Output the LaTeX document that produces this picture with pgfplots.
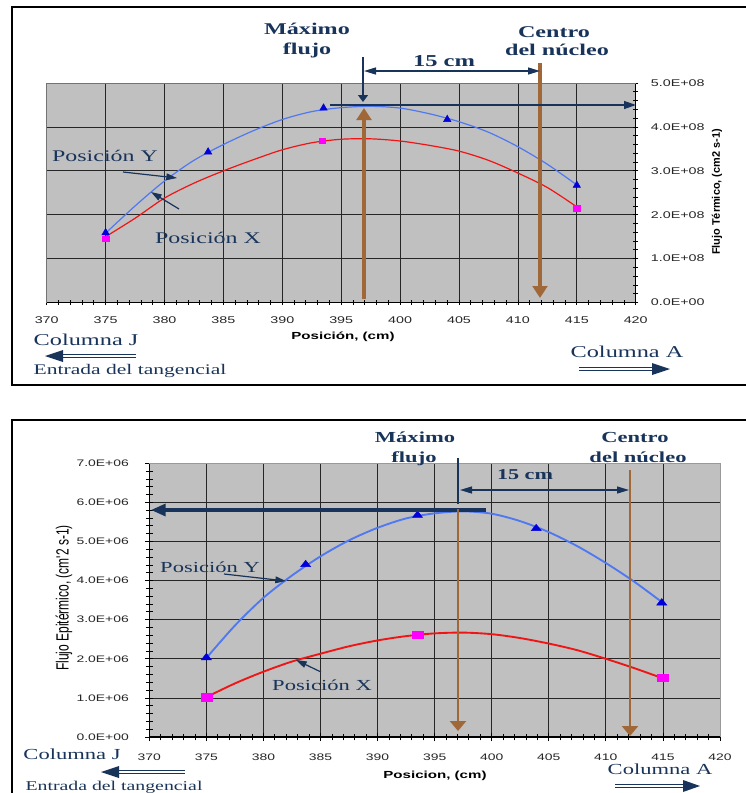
\documentclass[border=0pt]{standalone}
\usepackage{fontspec}
\setmainfont{Liberation Serif}[FakeStretch=1.47]
\setsansfont{Liberation Sans}[FakeStretch=1.47]
\newfontfamily\plainsans{Liberation Sans}
\usepackage{graphicx}
\usepackage{pgfplots}
\pgfplotsset{compat=1.18}
\usetikzlibrary{arrows.meta}

\definecolor{navy}{RGB}{25,52,90}
\definecolor{brownar}{RGB}{160,104,56}
\definecolor{plotgray}{RGB}{192,192,192}
\definecolor{bluecurve}{RGB}{80,120,240}
\definecolor{bluemark}{RGB}{0,0,220}
\definecolor{redcurve}{RGB}{240,20,20}
\definecolor{magmark}{RGB}{255,0,255}

\newcommand{\fs}[1]{\fontsize{#1}{#1}\selectfont}

\begin{document}
\begin{tikzpicture}
\useasboundingbox (0,0) rectangle (559.5pt,-594.75pt);
\fill[white] (0,0) rectangle (559.5pt,-594.75pt);

% ---------------- top panel: thermal flux (units of 1E+08)
\begin{axis}[
  at={(35.03pt,-226.9pt)}, anchor=south west,
  scale only axis, width=441.75pt, height=164.6pt,
  xmin=370, xmax=420, ymin=0, ymax=5,
  axis x line*=bottom, axis y line*=right,
  axis line style={-, black, line width=0.8pt},
  xtick={370,375,380,385,390,395,400,405,410,415,420},
  xticklabels={370,375,380,385,390,395,400,405,410,415,420},
  ytick={0,1,2,3,4,5},
  yticklabels={0.0E+00,1.0E+08,2.0E+08,3.0E+08,4.0E+08,5.0E+08},
  minor x tick num=4, minor y tick num=4,
  tick align=center, major tick length=4pt, minor tick length=3.5pt,
  tick style={black, line width=0.6pt},
  grid=major, major grid style={black!85, line width=0.6pt},
  axis background/.style={fill=plotgray},
  ticklabel style={font=\sffamily\fs{7.3pt}, text=black!85},
  xticklabel style={anchor=center, inner sep=0pt, yshift=-10.9pt},
  yticklabel style={anchor=west, inner sep=0pt, xshift=9.2pt},
  clip=false,
]
\draw[black!55, line width=0.6pt] (rel axis cs:0,0) |- (rel axis cs:1,1);
\addplot[bluecurve, line width=0.9pt, smooth] coordinates {
 (375,1.58) (377.5,2.20) (380,2.77) (382.5,3.24) (385,3.60) (387.5,3.91)
 (390,4.17) (392.5,4.35) (395,4.44) (397.5,4.47) (400,4.43) (402.5,4.30)
 (405,4.12) (407.5,3.88) (410,3.55) (412.5,3.15) (415,2.68)};
\addplot[redcurve, line width=0.9pt, smooth] coordinates {
 (375,1.50) (377.5,1.92) (380,2.38) (382.5,2.72) (385,3.00) (387.5,3.25)
 (390,3.48) (392.5,3.64) (395,3.72) (397.5,3.73) (400,3.68) (402.5,3.58)
 (405,3.45) (407.5,3.24) (410,2.95) (412.5,2.62) (415,2.18)};
\addplot[only marks, mark=triangle*, mark size=3.2pt, color=bluemark] coordinates {
 (375,1.59) (383.7,3.43) (393.5,4.43) (404,4.17) (415,2.67)};
\addplot[only marks, mark=square*, mark size=2pt, mark options={xscale=1.26}, color=magmark] coordinates {
 (375,1.46) (393.4,3.69) (415,2.15)};
\end{axis}

% ---------------- bottom panel: epithermal flux (units of 1E+06)
\begin{axis}[
  at={(111.98pt,-552.75pt)}, anchor=south west,
  scale only axis, width=428pt, height=205.3pt,
  xmin=370, xmax=420, ymin=0, ymax=7,
  axis x line*=bottom, axis y line*=left,
  axis line style={-, black, line width=0.9pt},
  xtick={370,375,380,385,390,395,400,405,410,415,420},
  xticklabels={370,375,380,385,390,395,400,405,410,415,420},
  ytick={0,1,2,3,4,5,6,7},
  yticklabels={0.0E+00,1.0E+06,2.0E+06,3.0E+06,4.0E+06,5.0E+06,6.0E+06,7.0E+06},
  minor x tick num=4, minor y tick num=4,
  tick align=center, major tick length=6pt, minor tick length=5pt,
  tick style={black, line width=0.6pt},
  grid=major, major grid style={black!85, line width=0.6pt},
  axis background/.style={fill=plotgray},
  ticklabel style={font=\sffamily\fs{7.1pt}, text=black!85},
  xticklabel style={anchor=center, inner sep=0pt, yshift=-12pt},
  yticklabel style={anchor=east, inner sep=0pt, xshift=-12.2pt},
  clip=false,
]
\draw[black!40, line width=0.6pt] (rel axis cs:0,1) -| (rel axis cs:1,0);
\addplot[bluecurve, line width=1.4pt, smooth] coordinates {
 (375,2.02) (377.5,2.85) (380,3.56) (382.5,4.13) (385,4.62) (387.5,5.03)
 (390,5.35) (392.5,5.59) (395,5.72) (397.5,5.77) (400,5.71) (402.5,5.52)
 (405,5.24) (407.5,4.88) (410,4.45) (412.5,3.97) (415,3.43)};
\addplot[redcurve, line width=1.4pt, smooth] coordinates {
 (375,1.02) (377.5,1.37) (380,1.67) (382.5,1.93) (385,2.13) (387.5,2.32)
 (390,2.47) (392.5,2.58) (395,2.65) (397.5,2.67) (400,2.63) (402.5,2.53)
 (405,2.39) (407.5,2.22) (410,2.00) (412.5,1.76) (415,1.50)};
\addplot[only marks, mark=triangle*, mark size=3.2pt, mark options={xscale=1.35}, color=bluemark] coordinates {
 (375,2.03) (383.7,4.41) (393.5,5.67) (403.9,5.33) (414.9,3.43)};
\addplot[only marks, mark=square*, mark size=2.8pt, mark options={xscale=1.47}, color=magmark] coordinates {
 (375,1.02) (393.5,2.62) (415,1.52)};
\end{axis}

% ---------------- annotations (pixel coordinates, y downward)
\begin{scope}[x=0.75pt,y=-0.75pt]
% frames
\draw[black, line width=1.6pt] (12,7) rectangle (780,385);
\draw[black, line width=2pt] (12,830) -- (12,420) -- (780,420);

% ===== top panel
\draw[brownar, line width=2.5pt, -{Triangle[length=9pt,width=11pt]}] (364,299) -- (364,108);
\draw[brownar, line width=2.5pt, -{Triangle[length=9pt,width=11pt]}] (540,63) -- (540,298);
\draw[navy, line width=1pt, -{Triangle[length=5.25pt,width=7.5pt]}] (363,57) -- (363,102);
\draw[navy, line width=1pt, {Triangle[length=9pt,width=5.25pt]}-{Triangle[length=9pt,width=5.25pt]}] (364,71) -- (540,71);
\draw[navy, line width=1pt, -{Triangle[length=9pt,width=6pt]}] (330,105) -- (636,105);
\draw[navy, line width=0.9pt, -{Triangle[length=8pt,width=5pt]}] (123,172) -- (177,178);
\draw[navy, line width=0.9pt, -{Triangle[length=8pt,width=5pt]}] (179,209) -- (151,192);

\begin{scope}[every node/.style={anchor=base, inner sep=0pt, text=navy}]
\node[font=\bfseries\fs{12.3pt}] at (307,34.3) {Máximo};
\node[font=\bfseries\fs{12.3pt}] at (307,54) {flujo};
\node[font=\bfseries\fs{12.3pt}] at (554,37.7) {Centro};
\node[font=\bfseries\fs{12.3pt}] at (557,55.7) {del núcleo};
\node[font=\bfseries\fs{12.5pt}] at (444,66.3) {15 cm};
\node[font=\fs{12.2pt}] at (105,161) {Posición Y};
\node[font=\fs{12.2pt}] at (208,243.7) {Posición X};
\node[font=\fs{12.4pt}] at (86,345.7) {Columna J};
\node[font=\fs{11pt}] at (130,374) {Entrada del tangencial};
\node[font=\fs{12.4pt}] at (627,357.3) {Columna A};
\node[font=\sffamily\bfseries\fs{7.7pt}, text=black] at (343,339) {Posición, (cm)};
\end{scope}
\node[rotate=90, inner sep=0pt, font=\plainsans\bfseries\fs{8.2pt}] at (717,192) {Flujo Térmico, (cm2 s-1)};

% Columna arrows (double shaft) top
\draw[navy, line width=0.8pt] (63,354.5) -- (136,354.5) (63,357.5) -- (136,357.5);
\fill[navy] (45,356) -- (63,350) -- (63,362) -- cycle;
\draw[navy, line width=0.8pt] (579,367.5) -- (652,367.5) (579,370.5) -- (652,370.5);
\fill[navy] (670,369) -- (652,363) -- (652,375) -- cycle;

% ===== bottom panel
\draw[navy, line width=0.8pt] (458,458) -- (458,504);
\draw[navy, line width=2.4pt, -{Triangle[length=11pt,width=9pt]}] (486,510) -- (151,510);
\draw[brownar, line width=2pt, -{Triangle[length=7.5pt,width=12pt]}] (458,509) -- (458,731);
\draw[brownar, line width=2pt, -{Triangle[length=7.5pt,width=12pt]}] (630,470) -- (630,736);
\draw[navy, line width=0.9pt, {Triangle[length=9pt,width=5.25pt]}-{Triangle[length=9pt,width=5.25pt]}] (460,490) -- (629,490);
\draw[navy, line width=0.9pt, -{Triangle[length=8pt,width=5pt]}] (224,574) -- (286,581);
\draw[navy, line width=0.9pt, -{Triangle[length=8pt,width=5pt]}] (321,672) -- (296,660);

\begin{scope}[every node/.style={anchor=base, inner sep=0pt, text=navy}]
\node[font=\bfseries\fs{11.5pt}] at (415,442.6) {Máximo};
\node[font=\bfseries\fs{11.5pt}] at (414,462) {flujo};
\node[font=\bfseries\fs{11.5pt}] at (635,442.6) {Centro};
\node[font=\bfseries\fs{11.5pt}] at (638,462) {del núcleo};
\node[font=\bfseries\fs{11.3pt}] at (525,479.5) {15 cm};
\node[font=\fs{11.5pt}] at (210,572.8) {Posición Y};
\node[font=\fs{11.5pt}] at (322,690.6) {Posición X};
\node[font=\fs{11.5pt}] at (72,759) {Columna J};
\node[font=\fs{10.1pt}] at (114,790) {Entrada del tangencial};
\node[font=\fs{11.5pt}] at (660,774.5) {Columna A};
\node[font=\sffamily\bfseries\fs{7.7pt}, text=black] at (435,778.5) {Posicion, (cm)};
\end{scope}
\node[rotate=90, inner sep=0pt] at (64,598) {\scalebox{1}[1.47]{\plainsans\fs{9pt}Flujo Epitérmico, (cm'2 s-1)}};

% Columna arrows (double shaft) bottom
\draw[navy, line width=0.8pt] (119,770.5) -- (185,770.5) (119,773.5) -- (185,773.5);
\fill[navy] (101,772) -- (119,766) -- (119,778) -- cycle;
\draw[navy, line width=0.8pt] (615,784.5) -- (683,784.5) (615,787.5) -- (683,787.5);
\fill[navy] (700,786) -- (683,780) -- (683,792) -- cycle;
\end{scope}
\end{tikzpicture}
\end{document}
